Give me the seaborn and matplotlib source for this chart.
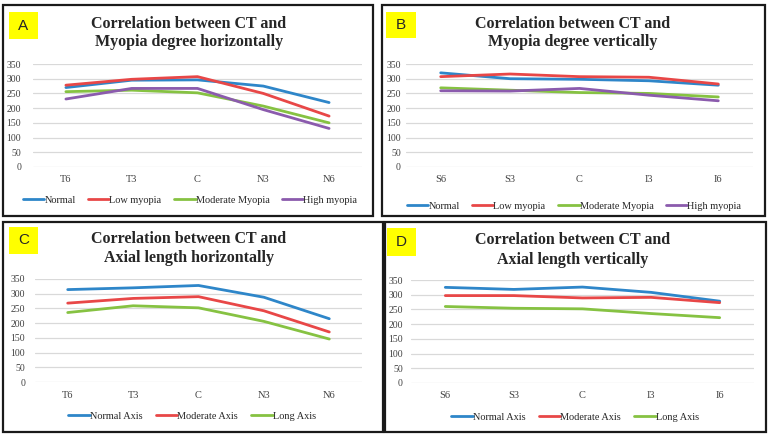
import numpy as np
import pandas as pd
import matplotlib.pyplot as plt
import seaborn as sns
from matplotlib.patches import Rectangle

# categories
horiz_pos = ['T6', 'T3', 'C', 'N3', 'N6']
vert_pos = ['S6', 'S3', 'C', 'I3', 'I6']

myopia_groups = ['Normal', 'Low myopia', 'Moderate Myopia', 'High myopia']
axis_groups = ['Normal Axis', 'Moderate Axis', 'Long Axis']

# A - myopia degree, horizontal
a_normal = [270, 295, 296, 275, 219]
a_low = [278, 298, 307, 250, 173]
a_moderate = [256, 261, 252, 207, 150]
a_high = [231, 267, 267, 195, 131]

# B - myopia degree, vertical
b_normal = [320, 300, 298, 293, 278]
b_low = [307, 316, 307, 305, 282]
b_moderate = [269, 261, 253, 250, 238]
b_high = [259, 258, 267, 244, 225]

# C - axial length, horizontal
c_normal = [314, 320, 328, 288, 215]
c_moderate = [268, 284, 290, 242, 170]
c_long = [236, 259, 252, 206, 146]

# D - axial length, vertical
d_normal = [325, 318, 326, 308, 278]
d_moderate = [297, 297, 289, 291, 273]
d_long = [260, 254, 252, 236, 222]

colors4 = ['#2E86C9', '#E84747', '#86C242', '#8B5BAD']
colors3 = colors4[:3]

sns.set_theme(style='white')
plt.rcParams['font.family'] = ['Liberation Serif', 'DejaVu Serif']

W, H = 772, 441
fig = plt.figure(figsize=(W / 100, H / 100), dpi=100)


def box(l, t, r, b):
    return [l / W, 1 - b / H, (r - l) / W, (b - t) / H]


def long_df(groups, series):
    rows = []
    for g, vals in zip(groups, series):
        for i, v in enumerate(vals):
            rows.append({'pos': i, 'value': v, 'group': g})
    return pd.DataFrame(rows)


def panel(frame, plot, cats, groups, series, colors, letter, letter_box,
          title, title_xy, xlab_y, leg_xy, colsp, ypad):
    # panel frame
    l, t, r, b = frame
    fig.patches.append(Rectangle((l / W, 1 - b / H), (r - l) / W, (b - t) / H,
                                 transform=fig.transFigure, fill=False,
                                 edgecolor='#1a1a1a', lw=1.6))
    # yellow letter label
    yl, yt, yr, yb = letter_box
    fig.patches.append(Rectangle((yl / W, 1 - yb / H), (yr - yl) / W, (yb - yt) / H,
                                 transform=fig.transFigure, color='#FFFF00', lw=0))
    fig.text((yl + yr) / 2 / W, 1 - (yt + yb) / 2 / H, letter, ha='center',
             va='center', fontsize=11, family=['Liberation Sans', 'DejaVu Sans'])
    fig.text(title_xy[0] / W, 1 - title_xy[1] / H, title, ha='center', va='center',
             fontsize=11.5, fontweight='bold', linespacing=1.25)

    ax = fig.add_axes(box(*plot))
    df = long_df(groups, series)
    sns.lineplot(data=df, x='pos', y='value', hue='group', hue_order=groups,
                 palette=colors, linewidth=2.0, legend=False, ax=ax, sort=False)
    ax.set_xlim(-0.5, len(cats) - 0.5)
    ax.set_ylim(0, 350)
    ax.set_yticks(np.arange(0, 351, 50))
    ax.set_xticks([])
    ax.tick_params(axis='y', labelsize=7, colors='#404040', length=0, pad=ypad)
    ax.set_xlabel('')
    ax.set_ylabel('')
    ax.grid(axis='y', color='#D9D9D9', lw=0.9)
    ax.set_axisbelow(True)
    for s in ax.spines.values():
        s.set_visible(False)
    # category labels
    x0, x1 = plot[0], plot[2]
    step = (x1 - x0) / len(cats)
    for i, c in enumerate(cats):
        fig.text((x0 + step * (i + 0.5)) / W, 1 - xlab_y / H, c, ha='center',
                 va='center', fontsize=7.5, color='#404040')
    handles = ax.get_lines()[:len(groups)]
    fig.legend(handles, groups, loc='center', bbox_to_anchor=(leg_xy[0] / W, 1 - leg_xy[1] / H),
               ncol=len(groups), frameon=False, fontsize=7.4, handlelength=2.1,
               handletextpad=0.0, columnspacing=colsp, borderaxespad=0)
    return ax


panel((3, 5, 373, 216), (33, 64, 362, 167), horiz_pos, myopia_groups,
      [a_normal, a_low, a_moderate, a_high], colors4, 'A', (9, 12, 38, 39),
      'Correlation between CT and\nMyopia degree horizontally', (189, 33), 180,
      (190, 200), 1.2, 8.5)

panel((382, 5, 765, 216), (406, 64, 753, 167), vert_pos, myopia_groups,
      [b_normal, b_low, b_moderate, b_high], colors4, 'B', (386, 12, 416, 38),
      'Correlation between CT and\nMyopia degree vertically', (573, 33), 179,
      (574, 206), 1.2, 3.6)

panel((3, 222, 383, 432), (35, 279, 362, 382), horiz_pos, axis_groups,
      [c_normal, c_moderate, c_long], colors3, 'C', (9, 227, 38, 254),
      'Correlation between CT and\nAxial length horizontally', (189, 249), 396,
      (192, 416), 1.3, 7)

panel((385, 222, 766, 432), (411, 280, 754, 383), vert_pos, axis_groups,
      [d_normal, d_moderate, d_long], colors3, 'D', (387, 228, 416, 256),
      'Correlation between CT and\nAxial length vertically', (573, 250), 396,
      (575, 417), 1.3, 5.8)

fig.savefig('out.png', dpi=100, facecolor='white')
